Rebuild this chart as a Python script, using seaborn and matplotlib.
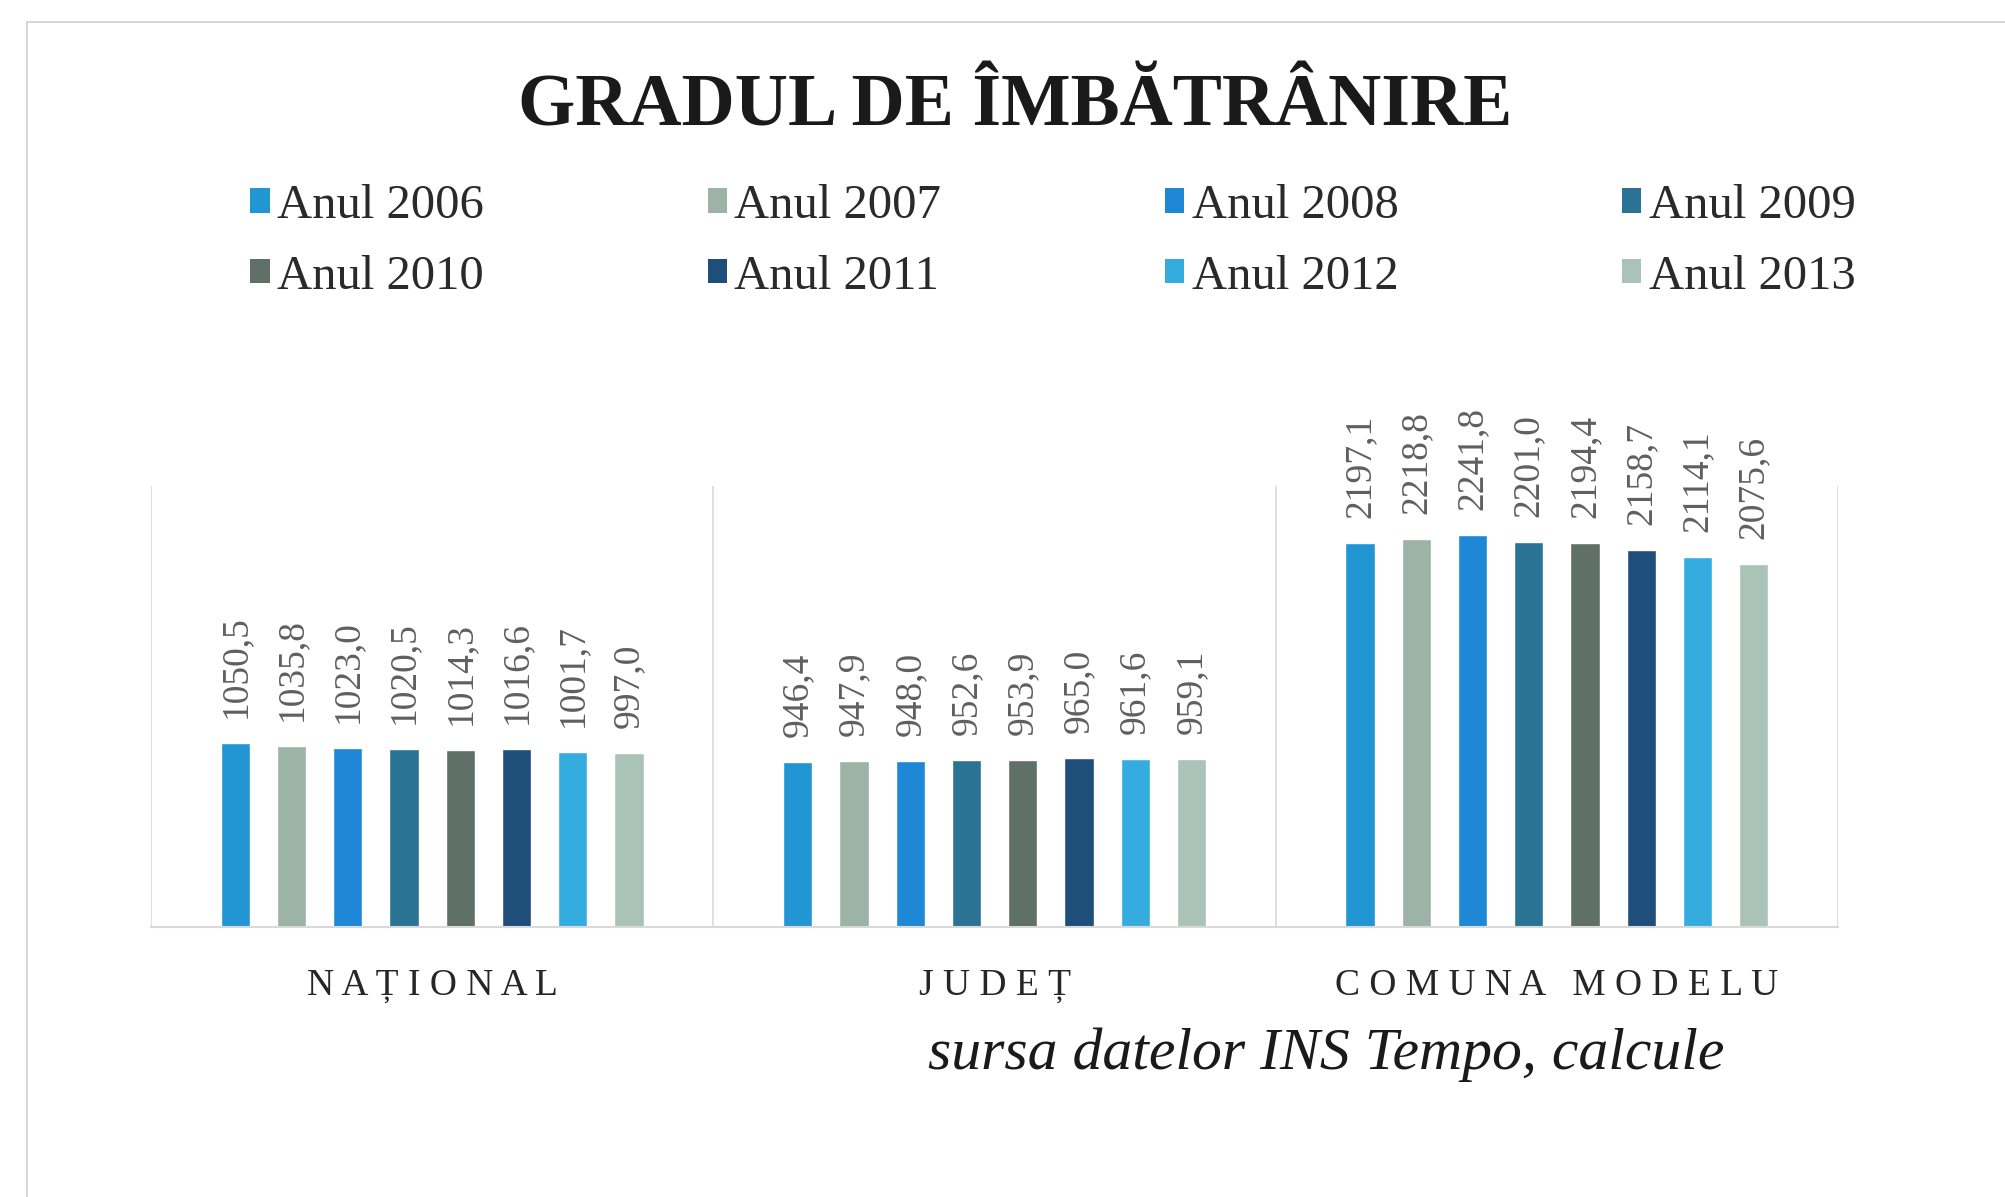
import matplotlib
matplotlib.use("Agg")
import matplotlib.pyplot as plt
from matplotlib.patches import Patch, Rectangle
import numpy as np
import pandas as pd
import seaborn as sns


categories = ["NAȚIONAL", "JUDEȚ", "COMUNA MODELU"]
years = ["Anul 2006", "Anul 2007", "Anul 2008", "Anul 2009",
         "Anul 2010", "Anul 2011", "Anul 2012", "Anul 2013"]

national = [1050.5, 1035.8, 1023.0, 1020.5, 1014.3, 1016.6, 1001.7, 997.0]
judet = [946.4, 947.9, 948.0, 952.6, 953.9, 965.0, 961.6, 959.1]
comuna = [2197.1, 2218.8, 2241.8, 2201.0, 2194.4, 2158.7, 2114.1, 2075.6]

colors = ["#2196d3", "#9db3a6", "#1e88d6", "#2a7395",
          "#5f7068", "#204e7a", "#34ace0", "#a9c4b6"]

SERIF = ["Liberation Serif", "DejaVu Serif"]


def spaced(text: str) -> str:
    # letter-spaced category labels, like the original
    return " ".join(text)


def main():
    sns.set_theme(style="white")
    plt.rcParams["font.family"] = SERIF

    data = pd.DataFrame({
        "category": np.repeat(categories, len(years)),
        "year": years * len(categories),
        "value": national + judet + comuna,
    })

    fig = plt.figure(figsize=(20.06, 11.97), dpi=100)
    ax = fig.add_axes([0.0753, 0.2256, 0.841, 0.368])

    sns.barplot(
        data=data,
        x="category",
        y="value",
        hue="year",
        order=categories,
        hue_order=years,
        palette=colors,
        width=0.8,
        gap=0.48,
        saturation=1,
        legend=True,
        ax=ax,
    )

    for container in ax.containers:
        labels = [f"{v:.1f}".replace(".", ",") for v in container.datavalues]
        ax.bar_label(container, labels=labels, rotation=90, padding=18,
                     fontsize=27, color="#5f5f5f", family=SERIF)

    ax.set_ylim(0, 2520)
    ax.set_xlim(-0.5, 2.5)
    ax.set_xlabel("")
    ax.set_ylabel("")
    ax.set_yticks([])
    ax.set_xticks(range(len(categories)))
    ax.set_xticklabels([spaced(c) for c in categories], fontsize=27,
                       color="#262626", family=SERIF)
    ax.tick_params(axis="x", length=0, pad=30)

    # faint separators between categories
    ax.set_xticks(np.arange(-0.5, len(categories), 1), minor=True)
    ax.tick_params(axis="x", which="minor", length=0)
    ax.grid(axis="x", which="minor", color="#d9d9d9", linewidth=1.2)
    ax.grid(axis="x", which="major", visible=False)

    for side in ["top", "left", "right"]:
        ax.spines[side].set_visible(False)
    ax.spines["bottom"].set_color("#d9d9d9")
    ax.spines["bottom"].set_linewidth(1.5)

    ax.get_legend().remove()
    handles = [Patch(facecolor=c, edgecolor="none") for c in colors]
    order = [0, 4, 1, 5, 2, 6, 3, 7]
    fig.legend(
        [handles[i] for i in order],
        [years[i] for i in order],
        ncol=4,
        loc="upper left",
        bbox_to_anchor=(0.103, 0.883),
        frameon=False,
        handlelength=0.4,
        handleheight=0.4,
        handletextpad=0.15,
        columnspacing=4.6,
        labelspacing=0.55,
        prop={"family": SERIF, "size": 35},
        labelcolor="#2a2a2a",
    )

    fig.text(0.506, 0.91, "GRADUL DE ÎMBĂTRÂNIRE", ha="center", va="center",
             fontsize=53, fontweight="bold", color="#1a1a1a", family=SERIF)
    fig.text(0.661, 0.119, "sursa datelor INS Tempo, calcule", ha="center",
             va="center", fontsize=43, style="italic", color="#1a1a1a",
             family=SERIF)

    fig.patches.append(Rectangle((0.0135, -0.1), 1.2, 1.082,
                                 transform=fig.transFigure, fill=False,
                                 edgecolor="#d0d0d0", linewidth=1.2))

    fig.savefig("out.png", dpi=100)


if __name__ == "__main__":
    main()
